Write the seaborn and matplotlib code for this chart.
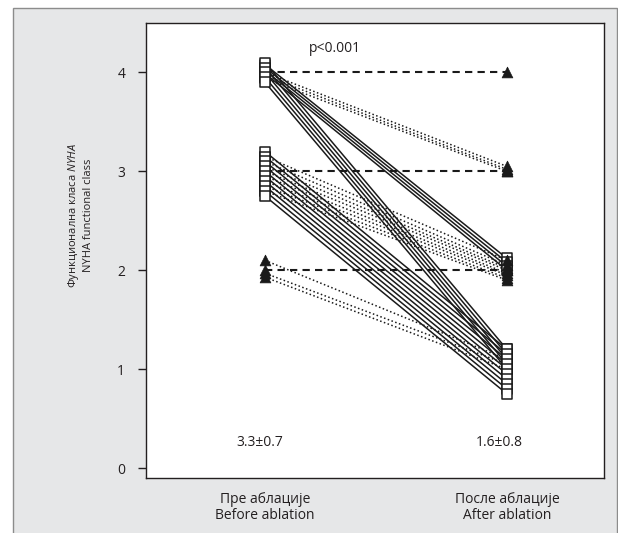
import matplotlib

matplotlib.use("Agg")
import matplotlib.pyplot as plt
import pandas as pd
import seaborn as sns
from matplotlib.patches import Rectangle

stages = ["Пре аблације\nBefore ablation", "После аблације\nAfter ablation"]
stage_means = ["3.3±0.7", "1.6±0.8"]
p_text = "p<0.001"
y_ticks = [0, 1, 2, 3, 4]

# NYHA class per patient, before / after ablation (small offsets = stacked markers)
same_before = [4.0, 3.0, 2.0]
same_after = [4.0, 3.0, 2.0]
one_before = [4.0, 3.97, 3.94, 3.15, 3.1, 3.05, 3.0, 2.95, 2.9, 2.85, 2.8, 2.1, 1.97, 1.93]
one_after = [3.05, 3.02, 3.0, 2.1, 2.05, 2.02, 2.0, 1.97, 1.95, 1.92, 1.9, 1.1, 1.05, 1.0]
two_before = [4.08, 4.05, 4.02, 3.99, 4.1, 4.05, 4.0, 3.95, 3.9,
              3.2, 3.15, 3.1, 3.05, 3.0, 2.95, 2.9, 2.85, 2.8, 2.75]
two_after = [2.12, 2.08, 2.04, 2.0, 1.2, 1.15, 1.1, 1.05, 1.0,
             1.2, 1.15, 1.1, 1.05, 1.0, 0.95, 0.9, 0.85, 0.8, 0.75]

rows = []
pid = 0
for kind, before, after in [("dashed", same_before, same_after),
                            ("dotted", one_before, one_after),
                            ("solid", two_before, two_after)]:
    for b, a in zip(before, after):
        b_mark = "sq" if b >= 2.5 else "tri"
        a_mark = "sq" if (kind == "solid" or a < 1.5) else "tri"
        rows.append({"pid": pid, "stage": 0, "value": b, "kind": kind, "marker": b_mark})
        rows.append({"pid": pid, "stage": 1, "value": a, "kind": kind, "marker": a_mark})
        pid += 1
df = pd.DataFrame(rows)

sns.set_style("white")
plt.rcParams["font.family"] = ["Open Sans", "DejaVu Sans"]
plt.rcParams["mathtext.fontset"] = "custom"
plt.rcParams["mathtext.it"] = "Open Sans:italic"
plt.rcParams["mathtext.rm"] = "Open Sans"

fig = plt.figure(figsize=(6.18, 5.33), dpi=100)
fig.patch.set_facecolor("white")
fig.patches.append(Rectangle((13 / 618, -0.01), (617 - 13) / 618, 1 - 8 / 533 + 0.01,
                             transform=fig.transFigure, facecolor="#e6e7e8",
                             edgecolor="#8c8c8c", linewidth=1.0, zorder=-5))
ax = fig.add_axes([146 / 618, 1 - 478 / 533, (604 - 146) / 618, (478 - 23) / 533])
ax.set_facecolor("white")
ax.set_zorder(2)

line_styles = {"solid": ("-", 1.1), "dotted": ((0, (1, 1.6)), 1.1), "dashed": ((0, (3.5, 2.5)), 1.5)}
for kind, (ls, lw) in line_styles.items():
    sns.lineplot(data=df[df["kind"] == kind], x="stage", y="value", units="pid",
                 estimator=None, sort=False, color="#1a1a1a", linestyle=ls,
                 linewidth=lw, legend=False, ax=ax, zorder=2)

sns.scatterplot(data=df[df["marker"] == "sq"], x="stage", y="value", marker="s",
                s=42, color="white", edgecolor="#1a1a1a", linewidth=1.1, ax=ax,
                legend=False, zorder=3)
sns.scatterplot(data=df[df["marker"] == "tri"], x="stage", y="value", marker="^",
                s=60, color="#1a1a1a", edgecolor="#1a1a1a", linewidth=0.5, ax=ax,
                legend=False, zorder=3)

ax.set_xlim(-0.492, 1.401)
ax.set_ylim(-0.1, 4.5)
ax.set_yticks(y_ticks)
ax.set_yticklabels([str(t) for t in y_ticks], fontsize=10, color="#231f20")
ax.set_xticks([0, 1])
ax.set_xticklabels(stages, fontsize=10, color="#231f20", linespacing=1.1)
ax.tick_params(axis="x", length=0, pad=10)
ax.tick_params(axis="y", left=True, length=6, width=1, direction="out", pad=9, color="#231f20")
ax.set_xlabel("")
ax.set_ylabel("")
for spine in ax.spines.values():
    spine.set_color("#231f20")
    spine.set_linewidth(1.0)

fig.text(80 / 618, 1 - 215 / 533, "Функционална класа $\\it{NYHA}$\nNYHA functional class",
         rotation=90, ha="center", va="center", fontsize=8, color="#231f20", linespacing=1.3)

ax.text(0.29, 4.24, p_text, ha="center", va="center", fontsize=10, color="#231f20")
ax.text(-0.02, 0.26, stage_means[0], ha="center", va="center", fontsize=10, color="#231f20")
ax.text(0.97, 0.26, stage_means[1], ha="center", va="center", fontsize=10, color="#231f20")

fig.savefig("out.png", dpi=100)
plt.close(fig)
